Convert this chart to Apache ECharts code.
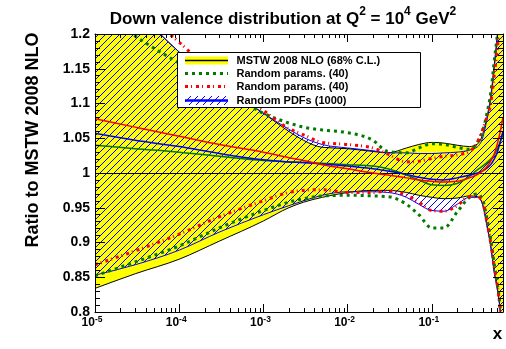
<!DOCTYPE html>
<html><head><meta charset="utf-8">
<script src="https://cdn.jsdelivr.net/npm/echarts@6/dist/echarts.min.js"></script>
<style>html,body{margin:0;padding:0;background:#fff}#c{width:506px;height:349px}</style>
</head><body><div id="c"></div><script>
// ---- data ----
const xValues       = [1e-5, 3e-5, 1e-4, 3e-4, 1e-3, 2e-3, 3e-3, 5e-3, 0.01, 0.02, 0.03, 0.05, 0.07, 0.1, 0.14, 0.2, 0.28, 0.35, 0.4, 0.45, 0.5, 0.55, 0.6, 0.65, 0.7];
const mstwCentral   = [1,1,1,1,1,1,1,1,1,1,1,1,1,1,1,1,1,1,1,1,1,1,1,1,1];
const mstwUpper     = [1.300,1.237,1.174,1.128,1.086,1.060,1.047,1.037,1.035,1.031,1.029,1.036,1.041,1.044,1.043,1.040,1.038,1.042,1.055,1.080,1.110,1.155,1.200,1.250,1.310];
const mstwLower     = [0.834,0.855,0.876,0.902,0.931,0.950,0.958,0.965,0.972,0.975,0.975,0.972,0.968,0.965,0.963,0.964,0.967,0.966,0.955,0.925,0.895,0.858,0.833,0.800,0.740];
const pdfUpper      = [1.300,1.237,1.174,1.128,1.086,1.063,1.051,1.041,1.036,1.032,1.029,1.029,1.028,1.028,1.029,1.030,1.033,1.038,1.050,1.076,1.105,1.150,1.195,1.245,1.300];
const pdfLower      = [0.853,0.868,0.889,0.915,0.940,0.953,0.960,0.968,0.973,0.973,0.972,0.965,0.955,0.946,0.945,0.955,0.965,0.965,0.955,0.925,0.895,0.858,0.833,0.800,0.740];
const pdfCentral    = [1.057,1.047,1.038,1.028,1.019,1.016,1.015,1.013,1.010,1.006,1.003,0.998,0.994,0.991,0.990,0.993,0.997,1.000,1.003,1.007,1.012,1.020,1.030,1.045,1.060];
const paramsACentral= [1.040,1.035,1.030,1.024,1.018,1.016,1.015,1.014,1.012,1.010,1.006,0.997,0.990,0.983,0.982,0.985,0.995,1.005,1.010,1.015,1.020,1.026,1.035,1.045,1.055];
const paramsAUpper  = [1.240,1.197,1.158,1.125,1.086,1.072,1.066,1.062,1.058,1.047,1.031,1.029,1.036,1.042,1.041,1.037,1.034,1.045,1.060,1.085,1.115,1.160,1.200,1.250,1.300];
const paramsALower  = [0.852,0.872,0.895,0.921,0.946,0.958,0.963,0.967,0.968,0.967,0.966,0.955,0.940,0.921,0.921,0.944,0.965,0.970,0.962,0.935,0.905,0.870,0.840,0.805,0.750];
const paramsBCentral= [1.078,1.066,1.053,1.041,1.030,1.022,1.018,1.012,1.006,1.000,0.997,0.993,0.990,0.988,0.987,0.988,0.993,0.998,1.003,1.009,1.017,1.027,1.042,1.060,1.080];
const paramsBUpper  = [1.290,1.240,1.188,1.135,1.090,1.064,1.055,1.044,1.041,1.036,1.027,1.016,1.017,1.021,1.024,1.026,1.031,1.045,1.062,1.080,1.100,1.140,1.180,1.230,1.290];
const paramsBLower  = [0.868,0.888,0.912,0.937,0.960,0.972,0.975,0.976,0.972,0.972,0.974,0.968,0.958,0.946,0.945,0.953,0.966,0.966,0.958,0.930,0.900,0.865,0.838,0.800,0.740];
const legendLabels  = ['MSTW 2008 NLO (68% C.L.)', 'Random params. (40)', 'Random params. (40)', 'Random PDFs (1000)'];
const yTickLabels   = ['0.8','0.85','0.9','0.95','1','1.05','1.1','1.15','1.2'];
const xDecades      = [-5,-4,-3,-2,-1];
const xMinorTicks   = [];
xDecades.forEach(function(d){ for (let k=2;k<=9;k++){ const v=k*Math.pow(10,d); if (v<0.7) xMinorTicks.push(v);} });

// ---- styling ----
const FONT = '"Liberation Sans", Arial, sans-serif';
const GREEN = '#007a00', RED = '#ff0000', BLUE = '#0000ff';

function hatch(){
  const S = 7, c = document.createElement('canvas');
  c.width = S; c.height = S;
  const g = c.getContext('2d');
  g.strokeStyle = BLUE; g.lineWidth = 1;
  g.beginPath();
  g.moveTo(-1, S+1); g.lineTo(S+1, -1);
  g.moveTo(-1, 1); g.lineTo(1, -1);
  g.moveTo(S-1, S+1); g.lineTo(S+1, S-1);
  g.stroke();
  return {image: c, repeat: 'repeat'};
}
const HATCH = hatch();

// monotone cubic (in pixel space) path through projected points
function monoPath(P, start){
  const n = P.length, t = new Array(n);
  const s = [];
  for (let i=0;i<n-1;i++){ const h=P[i+1][0]-P[i][0]; s.push(h===0?0:(P[i+1][1]-P[i][1])/h); }
  for (let i=1;i<n-1;i++){
    const h0=P[i][0]-P[i-1][0], h1=P[i+1][0]-P[i][0];
    const s0=s[i-1], s1=s[i];
    const p=(s0*h1+s1*h0)/(h0+h1);
    t[i]=(Math.sign(s0)+Math.sign(s1))*Math.min(Math.abs(s0),Math.abs(s1),0.5*Math.abs(p))||0;
  }
  t[0]=(3*s[0]-t[1])/2; t[n-1]=(3*s[n-2]-t[n-2])/2;
  let d = (start?'M':'L')+P[0][0].toFixed(2)+' '+P[0][1].toFixed(2);
  for (let i=0;i<n-1;i++){
    const dx=(P[i+1][0]-P[i][0])/3;
    d+=' C'+(P[i][0]+dx).toFixed(2)+' '+(P[i][1]+dx*t[i]).toFixed(2)+' '+
      (P[i+1][0]-dx).toFixed(2)+' '+(P[i+1][1]-dx*t[i+1]).toFixed(2)+' '+
      P[i+1][0].toFixed(2)+' '+P[i+1][1].toFixed(2);
  }
  return d;
}

function curve(arrA, arrB, style, z, crisp){
  return {type:'custom', z:z, silent:true, clip:true, data:[[1e-3, 1]],
    renderItem:function(params, api){
      const cs = params.coordSys;
      let A = xValues.map(function(x,i){ return api.coord([x, arrA[i]]); });
      if (crisp) A = A.map(function(p){ return [p[0], Math.round(p[1]-0.5)+0.5]; });
      let d = monoPath(A, true);
      if (arrB){
        const B = xValues.map(function(x,i){ return api.coord([x, arrB[i]]); }).reverse();
        d += ' ' + monoPath(B, false) + ' Z';
      }
      return {type:'path', shape:{pathData:d}, style:style,
        clipPath:{type:'rect', shape:{x:cs.x, y:cs.y, width:cs.width, height:cs.height}}};
    }};
}
function stroke(color, width, dash){ const o={fill:'none', stroke:color, lineWidth:width}; if (dash) o.lineDash=dash; return o; }

const chart = echarts.init(document.getElementById('c'), null, {renderer:'canvas'});

const xAxisBase = {type:'log', logBase:10, min:1e-5, max:0.7, splitLine:{show:false}, z:10,
  axisLine:{show:true, onZero:false, lineStyle:{color:'#000', width:1}},
  axisTick:{show:true, inside:true, length:8, lineStyle:{color:'#000', width:1}}};
const yAxisBase = {type:'value', min:0.8, max:1.2, interval:0.05, splitLine:{show:false}, z:10,
  axisLine:{show:true, onZero:false, lineStyle:{color:'#000', width:1}},
  axisTick:{show:true, inside:true, length:10, lineStyle:{color:'#000', width:1}},
  minorTick:{show:true, splitNumber:5, length:5, lineStyle:{color:'#000', width:1}},
  minorSplitLine:{show:false}};

chart.setOption({
  animation:false,
  backgroundColor:'#fff',
  grid:{left:95, right:3, top:34, bottom:37, show:false},
  xAxis:[
    Object.assign({}, xAxisBase, {position:'bottom',
      axisLabel:{show:true, margin:3, padding:[0,6,0,0],
        formatter:function(v){ const e=Math.round(Math.log10(v)); if (Math.abs(Math.log10(v)-e)>1e-6) return ''; return '{b|10}{s|'+e+'}'; },
        rich:{b:{fontSize:12, fontWeight:'bold', fontFamily:FONT, color:'#000', lineHeight:14, verticalAlign:'bottom'},
              s:{fontSize:8.5, fontWeight:'bold', fontFamily:FONT, color:'#000', lineHeight:9, verticalAlign:'top'}}}}),
    Object.assign({}, xAxisBase, {position:'top', axisLabel:{show:false}})
  ],
  yAxis:[
    Object.assign({}, yAxisBase, {position:'left',
      axisLabel:{show:true, margin:5, fontSize:14, fontWeight:'bold', fontFamily:FONT, color:'#000',
        formatter:function(v){ const i=Math.round((v-0.8)/0.05); return yTickLabels[i]; }}}),
    Object.assign({}, yAxisBase, {position:'right', axisLabel:{show:false}})
  ],
  series:[
    // MSTW yellow band, Random PDFs hatched band
    curve(mstwUpper, mstwLower, {fill:'#ffff00', stroke:'none'}, 1),
    curve(pdfUpper, pdfLower, {fill:HATCH, stroke:'none'}, 2),
    // band borders
    curve(mstwUpper, null, stroke('#000', 1), 3),
    curve(mstwLower, null, stroke('#000', 1), 3),
    curve(pdfUpper, null, stroke(BLUE, 1), 3),
    curve(pdfLower, null, stroke(BLUE, 1), 3),
    // central values
    curve(mstwCentral, null, stroke('#000', 1), 4, true),
    curve(paramsACentral, null, stroke(GREEN, 1.5), 4),
    curve(pdfCentral, null, stroke(BLUE, 1.5), 4),
    curve(paramsBCentral, null, stroke(RED, 1.5), 4),
    // random params uncertainties
    curve(paramsAUpper, null, stroke(GREEN, 3, [3,4]), 5),
    curve(paramsALower, null, stroke(GREEN, 3, [3,4]), 5),
    curve(paramsBUpper, null, stroke(RED, 3, [3,3,1,4]), 5),
    curve(paramsBLower, null, stroke(RED, 3, [3,3,1,4]), 5),
    // minor log ticks (bottom & top)
    {type:'custom', z:10, silent:true, data:xMinorTicks.map(function(v){return [v, 1];}),
      renderItem:function(params, api){
        const x = api.value(0);
        const pb = api.coord([x, 0.8]), pt = api.coord([x, 1.2]);
        const xx = Math.round(pb[0]) + 0.5;
        return {type:'group', children:[
          {type:'line', shape:{x1:xx, y1:pb[1], x2:xx, y2:pb[1]-4}, style:{stroke:'#000', lineWidth:1}},
          {type:'line', shape:{x1:xx, y1:pt[1], x2:xx, y2:pt[1]+4}, style:{stroke:'#000', lineWidth:1}}
        ]};
      }}
  ],
  graphic:[
    {type:'text', x:283, y:6, z:100, style:{
      text:'{a|Down valence distribution at Q}{s|2}{a| = 10}{s|4}{a| GeV}{s|2}',
      align:'center', verticalAlign:'top',
      rich:{a:{fontSize:17, fontWeight:'bold', fontFamily:FONT, fill:'#000', lineHeight:22, verticalAlign:'bottom'},
            s:{fontSize:12, fontWeight:'bold', fontFamily:FONT, fill:'#000', lineHeight:13, verticalAlign:'top'}}}},
    {type:'text', x:33.5, y:140, rotation:Math.PI/2, z:100, style:{text:'Ratio to MSTW 2008 NLO',
      font:'bold 18px '+FONT, fill:'#000', align:'center', verticalAlign:'middle'}},
    {type:'text', x:497.5, y:334, z:100, style:{text:'x', font:'bold 17px '+FONT, fill:'#000', align:'center', verticalAlign:'middle'}},
    // legend
    {type:'rect', z:100, shape:{x:177.5, y:52.5, width:243, height:55}, style:{fill:'#fff', stroke:'#000', lineWidth:1}},
    {type:'rect', z:101, shape:{x:185, y:56.5, width:43, height:8}, style:{fill:'#ffff00'}},
    {type:'line', z:102, shape:{x1:185, y1:60.5, x2:228, y2:60.5}, style:{stroke:'#000', lineWidth:1.5}},
    {type:'line', z:102, shape:{x1:185, y1:73.5, x2:228, y2:73.5}, style:{stroke:GREEN, lineWidth:3, lineDash:[3,4]}},
    {type:'line', z:102, shape:{x1:185, y1:86.5, x2:228, y2:86.5}, style:{stroke:RED, lineWidth:3, lineDash:[3,3,1,4]}},
    {type:'rect', z:101, shape:{x:185, y:96, width:43, height:9}, style:{fill:HATCH}},
    {type:'line', z:102, shape:{x1:185, y1:100.5, x2:228, y2:100.5}, style:{stroke:BLUE, lineWidth:2.5}},
    {type:'text', z:102, x:236.5, y:60.5, style:{text:legendLabels[0], font:'bold 11px '+FONT, fill:'#000', verticalAlign:'middle'}},
    {type:'text', z:102, x:236.5, y:73.5, style:{text:legendLabels[1], font:'bold 11px '+FONT, fill:'#000', verticalAlign:'middle'}},
    {type:'text', z:102, x:236.5, y:86.7, style:{text:legendLabels[2], font:'bold 11px '+FONT, fill:'#000', verticalAlign:'middle'}},
    {type:'text', z:102, x:236.5, y:100.5, style:{text:legendLabels[3], font:'bold 11px '+FONT, fill:'#000', verticalAlign:'middle'}}
  ]
});
</script></body></html>
